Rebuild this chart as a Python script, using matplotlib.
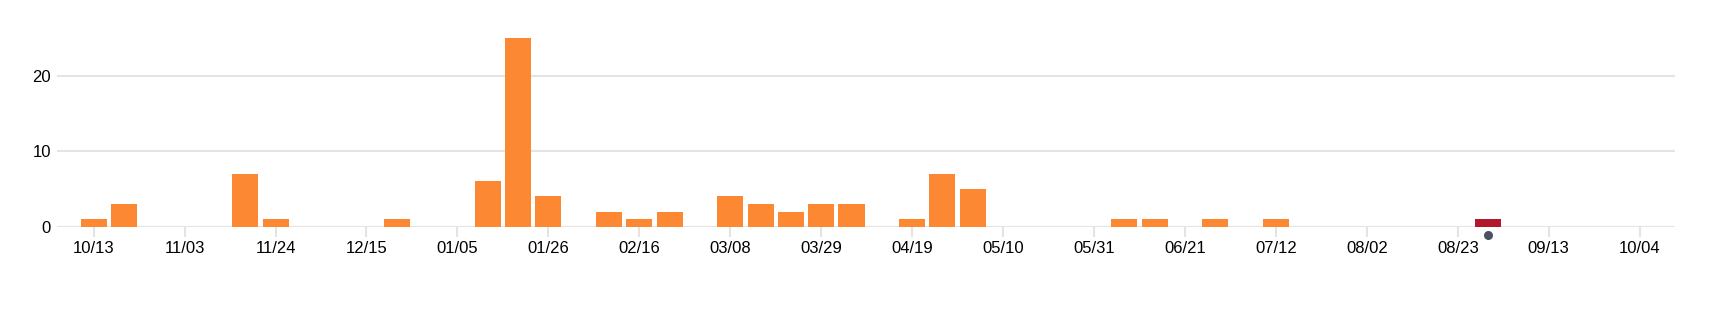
import matplotlib.pyplot as plt
import matplotlib.transforms as mtransforms

# weekly counts, one entry per week starting 10/13
counts = [1, 3, 0, 0, 0, 7, 1, 0, 0, 0,
          1, 0, 0, 6, 25, 4, 0, 2, 1, 2,
          0, 4, 3, 2, 3, 3, 0, 1, 7, 5,
          0, 0, 0, 0, 1, 1, 0, 1, 0, 1,
          0, 0, 0, 0, 0, 0, 1, 0, 0, 0,
          0, 0]
# every third week gets a label
week_labels = ["10/13", "11/03", "11/24", "12/15", "01/05", "01/26",
               "02/16", "03/08", "03/29", "04/19", "05/10", "05/31",
               "06/21", "07/12", "08/02", "08/23", "09/13", "10/04"]
selected_week = 46
y_ticks = [0, 10, 20]

ORANGE, RED, DOT, GRID = "#FD8833", "#B2182B", "#4A5260", "#E4E4E4"


def main():
    x = list(range(len(counts)))
    colors = [RED if i == selected_week else ORANGE for i in x]

    plt.rcParams["font.family"] = ["Liberation Sans", "DejaVu Sans"]
    fig = plt.figure(figsize=(17.14, 3.12), dpi=100)
    ax = fig.add_axes([0.03343, 0.2734, 0.9439, 0.6051])

    ax.bar(x, counts, width=0.86, color=colors, zorder=3)

    ax.set_xlim(-1.2, 52.17)
    ax.set_ylim(0, 25)
    ax.set_yticks(y_ticks)
    ax.yaxis.grid(True, color=GRID, linewidth=1.5, zorder=0)
    ax.set_axisbelow(True)

    ax.set_xticks(x[::3])
    ax.set_xticklabels(week_labels)

    for s in ax.spines.values():
        s.set_visible(False)
    ax.tick_params(axis="y", length=0, pad=4.7, labelsize=12, labelcolor="black")
    ax.tick_params(axis="x", length=7, width=1.5, color=GRID, pad=3.5,
                   labelsize=12, labelcolor="black")

    # marker under the selected week
    trans = mtransforms.offset_copy(ax.get_xaxis_transform(), fig=fig, x=0, y=-8, units="dots")
    ax.scatter([selected_week], [0], s=30, color=DOT, transform=trans, clip_on=False, zorder=4)

    fig.savefig("out.png", dpi=100)


if __name__ == "__main__":
    main()
